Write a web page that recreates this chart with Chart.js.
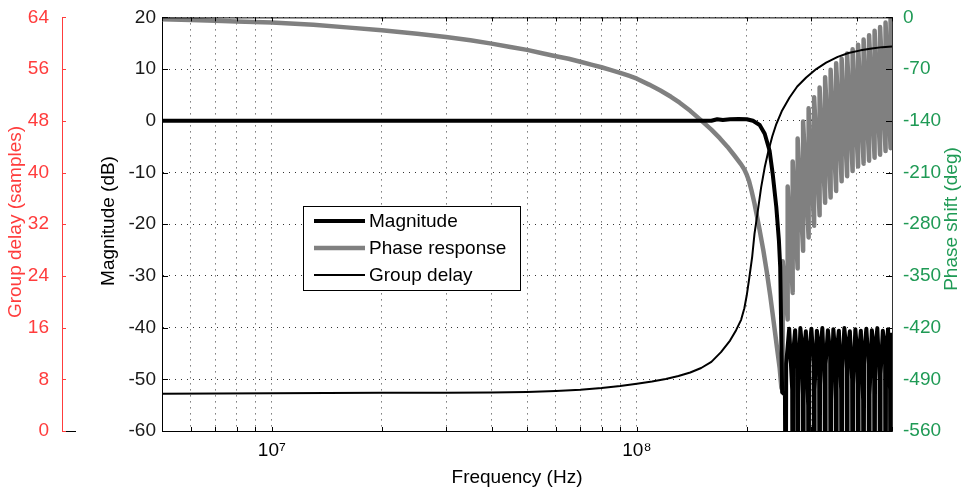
<!DOCTYPE html>
<html>
<head>
<meta charset="utf-8">
<title>Filter response</title>
<script src="https://cdn.jsdelivr.net/npm/chart.js@4.4.1/dist/chart.umd.min.js"></script>
<style>
  html, body { margin: 0; padding: 0; background: #fff; }
  #wrap { width: 967px; height: 493px; position: relative; }
</style>
</head>
<body>
<div id="wrap"><canvas id="responseChart"></canvas></div>
<script>
/* Filter frequency response: magnitude, phase and group delay on one log axis */

const FREQ_TICKS = [5e6, 6e6, 7e6, 8e6, 9e6, 1e7, 2e7, 3e7, 4e7, 5e7, 6e7, 7e7, 8e7, 9e7,
  1e8, 2e8, 3e8, 4e8, 5e8];
const FREQ_LABELS = { 1e7: "10\u2077", 1e8: "10\u2078" };

// magnitude (dB) — passband, roll-off, then the stopband lobes
const MAG_FREQ = [5e6, 1e8, 1.6e8, 1.66e8, 1.72e8, 1.8e8, 1.9e8, 2.0e8, 2.08e8, 2.17e8,
  2.24e8, 2.31e8, 2.355e8, 2.41e8, 2.45e8, 2.47e8, 2.485e8, 2.5e8, 2.545e8,
  2.557e8, 2.565e8, 2.614e8, 2.664e8,
  2.672e8, 2.68e8, 2.714e8, 2.749e8,
  2.757e8, 2.765e8, 2.805e8, 2.845e8,
  2.854e8, 2.863e8, 2.904e8, 2.946e8,
  2.955e8, 2.964e8, 3.007e8, 3.05e8,
  3.059e8, 3.068e8, 3.113e8, 3.157e8,
  3.167e8, 3.177e8, 3.222e8, 3.269e8,
  3.279e8, 3.289e8, 3.337e8, 3.385e8,
  3.395e8, 3.405e8, 3.454e8, 3.504e8,
  3.515e8, 3.526e8, 3.576e8, 3.628e8,
  3.639e8, 3.65e8, 3.702e8, 3.756e8,
  3.767e8, 3.778e8, 3.833e8, 3.888e8,
  3.9e8, 3.912e8, 3.968e8, 4.025e8,
  4.037e8, 4.049e8, 4.108e8, 4.167e8,
  4.18e8, 4.193e8, 4.253e8, 4.314e8,
  4.327e8, 4.34e8, 4.403e8, 4.467e8,
  4.48e8, 4.493e8, 4.558e8, 4.624e8,
  4.638e8, 4.652e8, 4.719e8, 4.787e8,
  4.801e8, 4.815e8, 4.877e8, 4.94e8,
  4.955e8, 4.97e8, 5e8];
const MAG_DB = [0, 0, 0, 0.3, 0.15, 0.3, 0.35, 0.3, 0, -0.8,
  -2.5, -5.8, -10.2, -16.7, -23.2, -28.3, -40, -52.5, -53,
  -90, -47, -40.2, -52,
  -90, -45, -40.5, -48,
  -90, -53, -40.1, -45,
  -90, -46, -40.7, -55,
  -90, -45, -40.2, -47,
  -90, -52, -40.6, -45,
  -90, -45, -40.1, -51,
  -90, -47, -40.5, -45,
  -90, -54, -40.3, -46,
  -90, -45, -40.6, -52,
  -90, -48, -40.1, -45,
  -90, -45, -40.7, -50,
  -90, -51, -40.3, -46,
  -90, -46, -40.6, -54,
  -90, -45, -40.2, -47,
  -90, -53, -40.5, -45,
  -90, -45, -40.1, -50,
  -90, -49, -40.6, -45,
  -90, -45, -40.3, -52,
  -90, -46, -41];

// phase (deg) — wraps up by ~180 at every stopband zero
const PHASE_FREQ = [5e6, 6e6, 7e6, 8e6, 1e7, 1.3e7, 1.6e7, 2e7, 2.5e7, 3e7, 3.5e7, 4e7,
  4.5e7, 5e7, 5.5e7, 6e7, 6.5e7, 7e7, 7.5e7, 8e7, 8.5e7, 9e7, 9.5e7, 1e8,
  1.08e8, 1.16e8, 1.24e8, 1.31e8, 1.4e8, 1.5e8, 1.6e8, 1.687e8, 1.77e8, 1.85e8,
  1.93e8, 1.97e8, 2.0e8, 2.03e8, 2.06e8, 2.1e8, 2.16e8, 2.22e8, 2.27e8, 2.32e8,
  2.37e8, 2.42e8, 2.462e8, 2.489e8,
  2.509e8, 2.509e8, 2.589e8, 2.589e8, 2.672e8, 2.672e8, 2.757e8, 2.757e8,
  2.854e8, 2.854e8, 2.955e8, 2.955e8, 3.059e8, 3.059e8, 3.167e8, 3.167e8,
  3.279e8, 3.279e8, 3.395e8, 3.395e8, 3.515e8, 3.515e8, 3.639e8, 3.639e8,
  3.767e8, 3.767e8, 3.9e8, 3.9e8, 4.037e8, 4.037e8, 4.18e8, 4.18e8,
  4.327e8, 4.327e8, 4.48e8, 4.48e8, 4.638e8, 4.638e8, 4.801e8, 4.801e8,
  4.955e8, 4.955e8, 5e8];
const PHASE_DEG = [-2.5, -3.5, -4.5, -5.5, -7, -10, -13.5, -17.5, -22, -26.5, -31, -35.5,
  -40, -44, -48.5, -52.5, -56, -60, -64, -67.5, -71.5, -75, -79, -83,
  -91, -99, -107.5, -115.5, -126.5, -139.5, -152, -163.5, -175, -187,
  -199, -206, -213, -222, -234, -252, -283, -315, -345, -377,
  -412, -447, -475, -502,
  -502, -330, -409, -229, -373, -195, -340, -164,
  -316, -141, -298, -123, -282, -108, -268, -95,
  -251, -81, -244, -71, -235, -62, -222, -56,
  -215, -49, -208, -43, -202, -37, -198, -30,
  -194, -24, -190, -18, -186, -13, -181, -7,
  -177, -2, -40];

// group delay (samples)
const GD_FREQ = [5e6, 1e7, 2e7, 3e7, 4e7, 5e7, 6e7, 7e7, 8e7, 9e7, 1e8, 1.1e8, 1.2e8,
  1.3e8, 1.4e8, 1.5e8, 1.6e8, 1.7e8, 1.8e8, 1.87e8, 1.93e8, 1.97e8, 2.0e8, 2.03e8,
  2.07e8, 2.1e8, 2.15e8, 2.19e8, 2.24e8, 2.29e8, 2.35e8, 2.41e8, 2.5e8, 2.62e8,
  2.75e8, 2.91e8, 3.1e8, 3.3e8, 3.55e8, 3.8e8, 4.1e8, 4.4e8, 4.7e8, 5e8];
const GD_SAMPLES = [5.75, 5.85, 5.9, 5.93, 5.97, 6.05, 6.2, 6.4, 6.65, 6.95, 7.3, 7.65, 8.05,
  8.5, 9.05, 9.75, 10.7, 12.2, 14, 15.6, 17.2, 19, 21, 23.5,
  27, 30.5, 34.5, 37.7, 40.8, 43.2, 45.6, 47.5, 49.6, 51.6,
  53.3, 54.7, 56, 57, 57.9, 58.5, 58.9, 59.2, 59.4, 59.5];

const INK = "#000000";
const RED = "#ff3c3c";
const GREEN = "#1f9a55";
const GRAY = "#808080";
const FONT = '"Liberation Sans", Arial, Helvetica, sans-serif';

const pairs = (xs, ys) => xs.map((x, i) => ({ x, y: ys[i] }));

// MATLAB-ish frame: top border, inward tick marks, axis titles and boxed legend
const matlabFrame = {
  id: "matlabFrame",
  afterDatasetsDraw(chart) {
    const { ctx, chartArea: a, scales } = chart;
    ctx.save();
    ctx.lineWidth = 1;
    ctx.strokeStyle = INK;
    ctx.beginPath();
    ctx.moveTo(a.left, a.top + 0.5);
    ctx.lineTo(a.right, a.top + 0.5);
    scales.x.ticks.forEach((t) => {
      const px = Math.round(scales.x.getPixelForValue(t.value)) + 0.5;
      ctx.moveTo(px, a.bottom); ctx.lineTo(px, a.bottom - 4);
      ctx.moveTo(px, a.top); ctx.lineTo(px, a.top + 4);
    });
    scales.yMag.ticks.forEach((t) => {
      const py = Math.round(scales.yMag.getPixelForValue(t.value)) + 0.5;
      ctx.moveTo(a.left, py); ctx.lineTo(a.left + 6, py);
      ctx.moveTo(a.right, py); ctx.lineTo(a.right - 6, py);
    });
    // stub of the hidden axes under the red scale
    const gdRight = scales.yGD.right;
    ctx.moveTo(gdRight, a.bottom + 0.5); ctx.lineTo(gdRight + 14, a.bottom + 0.5);
    ctx.stroke();

    ctx.strokeStyle = RED;
    ctx.beginPath();
    scales.yGD.ticks.forEach((t) => {
      const py = Math.round(scales.yGD.getPixelForValue(t.value)) + 0.5;
      ctx.moveTo(gdRight, py); ctx.lineTo(gdRight + 4, py);
    });
    ctx.stroke();
    ctx.restore();
  },
  afterDraw(chart) {
    const { ctx } = chart;
    ctx.save();
    ctx.font = "19px " + FONT;
    ctx.textAlign = "center";
    ctx.textBaseline = "middle";

    const vTitle = (text, x, y, color) => {
      ctx.save();
      ctx.translate(x, y);
      ctx.rotate(-Math.PI / 2);
      ctx.fillStyle = color;
      ctx.fillText(text, 0, 0);
      ctx.restore();
    };
    vTitle("Group delay (samples)", 16, 222, RED);
    vTitle("Magnitude (dB)", 109, 221, INK);
    vTitle("Phase shift (deg)", 952, 219, GREEN);
    ctx.fillStyle = INK;
    ctx.fillText("Frequency (Hz)", 517, 478);

    // legend box
    const box = { x: 303.5, y: 206.5, w: 217, h: 84 };
    ctx.fillStyle = "#fff";
    ctx.fillRect(box.x, box.y, box.w, box.h);
    ctx.strokeStyle = INK;
    ctx.lineWidth = 1;
    ctx.strokeRect(box.x, box.y, box.w, box.h);
    ctx.textAlign = "left";
    chart.data.datasets.forEach((ds, i) => {
      const y = 221 + i * 27;
      ctx.strokeStyle = ds.borderColor;
      ctx.lineWidth = ds.borderWidth;
      ctx.beginPath();
      ctx.moveTo(314, y);
      ctx.lineTo(365, y);
      ctx.stroke();
      ctx.fillStyle = INK;
      ctx.fillText(ds.label, 369, y + 1);
    });
    ctx.restore();
  },
};

Chart.defaults.font.family = FONT;
Chart.defaults.font.size = 19;
Chart.defaults.color = "#1a1a1a";

const dotted = { color: "rgba(0,0,0,0.8)", lineWidth: 1, drawTicks: false };

new Chart(document.getElementById("responseChart"), {
  type: "line",
  data: {
    datasets: [
      {
        label: "Magnitude",
        data: pairs(MAG_FREQ, MAG_DB),
        yAxisID: "yMag",
        borderColor: INK,
        borderWidth: 4,
        order: 1,
      },
      {
        label: "Phase response",
        data: pairs(PHASE_FREQ, PHASE_DEG),
        yAxisID: "yPh",
        borderColor: GRAY,
        borderWidth: 4.5,
        order: 3,
      },
      {
        label: "Group delay",
        data: pairs(GD_FREQ, GD_SAMPLES),
        yAxisID: "yGD",
        borderColor: INK,
        borderWidth: 2,
        order: 2,
      },
    ],
  },
  options: {
    responsive: true,
    maintainAspectRatio: false,
    animation: false,
    events: [],
    layout: { padding: { top: 16, left: 0, right: 0, bottom: 0 } },
    elements: {
      point: { radius: 0 },
      line: { tension: 0, borderJoinStyle: "round", fill: false },
    },
    datasets: { line: { clip: 0 } },
    plugins: { legend: { display: false }, tooltip: { enabled: false } },
    scales: {
      x: {
        type: "logarithmic",
        min: 5e6,
        max: 5e8,
        afterBuildTicks: (s) => { s.ticks = FREQ_TICKS.map((v) => ({ value: v })); },
        afterFit: (s) => { s.height = 62; },
        grid: dotted,
        border: { color: INK, width: 1, dash: [1, 5] },
        ticks: {
          autoSkip: false,
          maxRotation: 0,
          padding: 8,
          color: INK,
          callback: (v) => FREQ_LABELS[v] || "",
        },
      },
      yMag: {
        type: "linear",
        position: "left",
        min: -60,
        max: 20,
        weight: 0,
        afterFit: (s) => { s.width = 100; },
        grid: dotted,
        border: { color: INK, width: 1, dash: [1, 5] },
        ticks: { stepSize: 10, padding: 6 },
      },
      yGD: {
        type: "linear",
        position: "left",
        min: 0,
        max: 64,
        weight: 1,
        afterFit: (s) => { s.width = 62; },
        grid: { display: false, drawOnChartArea: false },
        border: { color: RED, width: 1 },
        ticks: { stepSize: 8, padding: 5, color: RED },
      },
      yPh: {
        type: "linear",
        position: "right",
        min: -560,
        max: 0,
        afterFit: (s) => { s.width = 75; },
        grid: { display: false, drawOnChartArea: false },
        border: { color: "#333", width: 1 },
        ticks: { stepSize: 70, padding: 3, color: GREEN },
      },
    },
  },
  plugins: [matlabFrame],
});
</script>
</body>
</html>
